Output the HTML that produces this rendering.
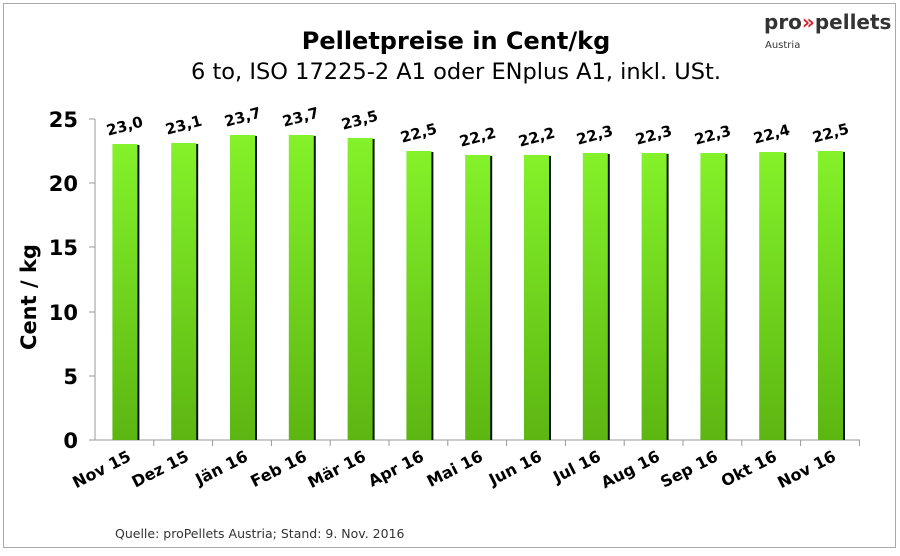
<!DOCTYPE html>
<html><head><meta charset="utf-8"><style>
body{margin:0;background:#fff}
</style></head><body>
<svg width="900" height="551" xmlns="http://www.w3.org/2000/svg" font-family="Verdana, 'DejaVu Sans', sans-serif">
<defs><linearGradient id="g" x1="0" y1="0" x2="0" y2="1"><stop offset="0" stop-color="#84f22a"/><stop offset="1" stop-color="#5cb611"/></linearGradient></defs>
<rect x="3.5" y="3.5" width="892" height="544" fill="#fff" stroke="#aaa"/>
<text x="456" y="49" text-anchor="middle" font-size="24" font-weight="bold">Pelletpreise in  Cent/kg</text>
<text x="456" y="79" text-anchor="middle" font-size="22.5">6 to, ISO 17225-2 A1 oder ENplus A1, inkl. USt.</text>
<text x="764" y="29" font-size="20" font-weight="bold" fill="#333">pro<tspan fill="#d2232a">»</tspan>pellets</text>
<text x="765" y="48" font-size="10" fill="#333">Austria</text>
<g stroke="#999" stroke-width="1">
<line x1="95" y1="119" x2="95" y2="440"/><line x1="95" y1="440" x2="860" y2="440"/>
<line x1="89" y1="119" x2="95" y2="119"/><line x1="89" y1="183" x2="95" y2="183"/><line x1="89" y1="247" x2="95" y2="247"/><line x1="89" y1="312" x2="95" y2="312"/><line x1="89" y1="376" x2="95" y2="376"/><line x1="89" y1="440" x2="95" y2="440"/>
<line x1="153.8" y1="440" x2="153.8" y2="446"/><line x1="212.6" y1="440" x2="212.6" y2="446"/><line x1="271.4" y1="440" x2="271.4" y2="446"/><line x1="330.2" y1="440" x2="330.2" y2="446"/><line x1="389" y1="440" x2="389" y2="446"/><line x1="447.8" y1="440" x2="447.8" y2="446"/><line x1="506.6" y1="440" x2="506.6" y2="446"/><line x1="565.4" y1="440" x2="565.4" y2="446"/><line x1="624.2" y1="440" x2="624.2" y2="446"/><line x1="683" y1="440" x2="683" y2="446"/><line x1="741.8" y1="440" x2="741.8" y2="446"/><line x1="800.6" y1="440" x2="800.6" y2="446"/><line x1="859.4" y1="440" x2="859.4" y2="446"/>
</g>
<g font-size="21" font-weight="bold" text-anchor="end">
<text x="78" y="127">25</text><text x="78" y="191">20</text><text x="78" y="255">15</text><text x="78" y="320">10</text><text x="78" y="384">5</text><text x="78" y="448">0</text>
</g>
<text transform="translate(36,297) rotate(-90)" text-anchor="middle" font-size="21" font-weight="bold">Cent / kg</text>
<g fill="#111">
<rect x="114.4" y="145" width="25" height="295"/><rect x="173.2" y="144" width="25" height="296"/><rect x="232" y="136" width="25" height="304"/><rect x="290.8" y="136" width="25" height="304"/><rect x="349.6" y="139" width="25" height="301"/><rect x="408.4" y="152" width="25" height="288"/><rect x="467.2" y="156" width="25" height="284"/><rect x="526" y="156" width="25" height="284"/><rect x="584.8" y="154" width="25" height="286"/><rect x="643.6" y="154" width="25" height="286"/><rect x="702.4" y="154" width="25" height="286"/><rect x="761.2" y="153" width="25" height="287"/><rect x="820" y="152" width="25" height="288"/>
</g>
<g fill="url(#g)">
<rect x="112.4" y="144" width="25" height="296"/><rect x="171.2" y="143" width="25" height="297"/><rect x="230" y="135" width="25" height="305"/><rect x="288.8" y="135" width="25" height="305"/><rect x="347.6" y="138" width="25" height="302"/><rect x="406.4" y="151" width="25" height="289"/><rect x="465.2" y="155" width="25" height="285"/><rect x="524" y="155" width="25" height="285"/><rect x="582.8" y="153" width="25" height="287"/><rect x="641.6" y="153" width="25" height="287"/><rect x="700.4" y="153" width="25" height="287"/><rect x="759.2" y="152" width="25" height="288"/><rect x="818" y="151" width="25" height="289"/>
</g>
<g font-size="15" font-weight="bold" text-anchor="middle">
<text transform="translate(126,131) rotate(-15)">23,0</text>
<text transform="translate(185,130) rotate(-15)">23,1</text>
<text transform="translate(244,122) rotate(-15)">23,7</text>
<text transform="translate(302,122) rotate(-15)">23,7</text>
<text transform="translate(361,125) rotate(-15)">23,5</text>
<text transform="translate(420,138) rotate(-15)">22,5</text>
<text transform="translate(479,142) rotate(-15)">22,2</text>
<text transform="translate(538,142) rotate(-15)">22,2</text>
<text transform="translate(596,140) rotate(-15)">22,3</text>
<text transform="translate(655,140) rotate(-15)">22,3</text>
<text transform="translate(714,140) rotate(-15)">22,3</text>
<text transform="translate(773,139) rotate(-15)">22,4</text>
<text transform="translate(832,138) rotate(-15)">22,5</text>
</g>
<g font-size="16" font-weight="bold" text-anchor="end">
<text transform="translate(132,460) rotate(-27)">Nov 15</text>
<text transform="translate(190,460) rotate(-27)">Dez 15</text>
<text transform="translate(249,460) rotate(-27)">Jän 16</text>
<text transform="translate(308,460) rotate(-27)">Feb 16</text>
<text transform="translate(367,460) rotate(-27)">Mär 16</text>
<text transform="translate(425,460) rotate(-27)">Apr 16</text>
<text transform="translate(484,460) rotate(-27)">Mai 16</text>
<text transform="translate(543,460) rotate(-27)">Jun 16</text>
<text transform="translate(602,460) rotate(-27)">Jul 16</text>
<text transform="translate(661,460) rotate(-27)">Aug 16</text>
<text transform="translate(719,460) rotate(-27)">Sep 16</text>
<text transform="translate(778,460) rotate(-27)">Okt 16</text>
<text transform="translate(837,460) rotate(-27)">Nov 16</text>
</g>
<text x="115" y="538" font-size="12.5" fill="#333">Quelle: proPellets Austria; Stand: 9. Nov. 2016</text>
</svg>
</body></html>
